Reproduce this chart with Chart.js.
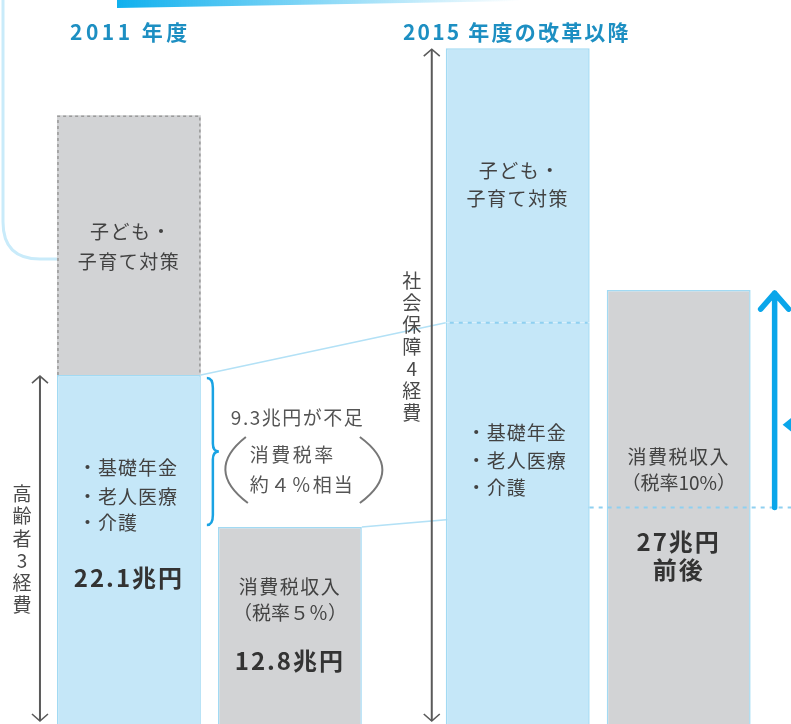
<!DOCTYPE html>
<html lang="ja">
<head>
<meta charset="utf-8">
<script src="https://cdn.jsdelivr.net/npm/chart.js@4.4.1/dist/chart.umd.min.js"></script>
<style>
  html, body { margin: 0; padding: 0; background: #fff; overflow: hidden; }
  #wrap { position: relative; width: 800px; height: 724px; }
</style>
</head>
<body>
<div id="wrap"><canvas id="myChart" width="800" height="724"></canvas></div>
<script>
// values in 兆円
const years = ['2011 年度', '2015 年度の改革以降'];
const elderly = [22.1, 25.3];     // 基礎年金・老人医療・介護
const childcare = [15.9, 16.8];   // 子ども・子育て対策
const taxRevenue = [12.8, 27.3];  // 消費税収入
const oldTaxLevel = 14.0;         // guide line level across the 10% bar

const FONT = "'Noto Sans CJK JP', 'Noto Sans', sans-serif";
const BLUE = '#c5e7f8';
const BLUE_EDGE = '#a2daf3';
const GRAY = '#d2d3d5';

function txt(ctx, s, x, y, size, opt) {
  opt = opt || {};
  ctx.save();
  ctx.font = (opt.bold ? 'bold ' : '') + size + 'px ' + FONT;
  ctx.fillStyle = opt.color || '#424242';
  ctx.textAlign = opt.align || 'center';
  ctx.textBaseline = 'middle';
  ctx.letterSpacing = (opt.ls || 0) + 'px';
  ctx.fillText(s, x, y);
  ctx.restore();
}

function vtxt(ctx, s, x, yCenter, step, size) {
  const chars = Array.from(s);
  const y0 = yCenter - (chars.length - 1) * step / 2;
  chars.forEach((c, i) => txt(ctx, c, x, y0 + i * step, size, {color: '#4a4a4a'}));
}

function dblArrow(ctx, x, y1, y2) {
  ctx.save();
  ctx.strokeStyle = '#5a5a5a';
  ctx.lineWidth = 2;
  ctx.beginPath();
  ctx.moveTo(x, y1 + 1); ctx.lineTo(x, y2 - 1);
  ctx.stroke();
  ctx.lineWidth = 1.6;
  ctx.beginPath();
  ctx.moveTo(x - 8, y1 + 8); ctx.lineTo(x, y1 + 1); ctx.lineTo(x + 8, y1 + 8);
  ctx.moveTo(x - 8, y2 - 8); ctx.lineTo(x, y2 - 1); ctx.lineTo(x + 8, y2 - 8);
  ctx.stroke();
  ctx.restore();
}

const decoPlugin = {
  id: 'deco',
  beforeDraw(chart) {
    const ctx = chart.ctx;
    // top gradient strip
    const g = ctx.createLinearGradient(117, 0, 520, 0);
    g.addColorStop(0, '#0fb0ee');
    g.addColorStop(0.45, 'rgba(15,176,238,0.55)');
    g.addColorStop(1, 'rgba(15,176,238,0)');
    ctx.save();
    ctx.fillStyle = g;
    ctx.beginPath();
    ctx.moveTo(117, 0); ctx.lineTo(117, 8); ctx.lineTo(520, 1); ctx.lineTo(520, 0); ctx.closePath();
    ctx.fill();
    // rounded frame at the top left
    ctx.strokeStyle = '#c9ebfa';
    ctx.lineWidth = 3;
    ctx.beginPath();
    ctx.moveTo(3, 0); ctx.lineTo(3, 222);
    ctx.quadraticCurveTo(3, 259, 40, 259);
    ctx.lineTo(70, 259);
    ctx.stroke();
    ctx.restore();
  },
  beforeDatasetsDraw(chart) {
    const ctx = chart.ctx;
    const lo = chart.getDatasetMeta(0).data;
    const tax = chart.getDatasetMeta(2).data;
    const y = chart.scales.y;
    const hw = lo[0].width / 2;
    ctx.save();
    ctx.strokeStyle = '#b3e1f6';
    ctx.lineWidth = 1.6;
    ctx.beginPath();
    ctx.moveTo(lo[0].x + hw, lo[0].y);
    ctx.lineTo(lo[1].x - hw, lo[1].y);
    ctx.moveTo(tax[0].x + hw, tax[0].y);
    ctx.lineTo(lo[1].x + hw, y.getPixelForValue(oldTaxLevel));
    ctx.stroke();
    ctx.restore();
  },
  afterDatasetsDraw(chart) {
    const ctx = chart.ctx;
    const lo = chart.getDatasetMeta(0).data;
    const up = chart.getDatasetMeta(1).data;
    const tax = chart.getDatasetMeta(2).data;
    const y = chart.scales.y;
    const hw = lo[0].width / 2;
    const H = chart.height;
    const lvl = y.getPixelForValue(oldTaxLevel);

    ctx.save();
    // dashed outline of the 2011 子ども・子育て block
    ctx.strokeStyle = '#9b9b9b';
    ctx.lineWidth = 1.6;
    ctx.setLineDash([3, 3]);
    ctx.beginPath();
    ctx.moveTo(up[0].x - hw + 1, up[0].base);
    ctx.lineTo(up[0].x - hw + 1, up[0].y + 1);
    ctx.lineTo(up[0].x + hw - 1, up[0].y + 1);
    ctx.lineTo(up[0].x + hw - 1, up[0].base);
    ctx.stroke();
    // dotted guide lines
    ctx.strokeStyle = '#8fd0f0';
    ctx.lineWidth = 2;
    ctx.setLineDash([4, 5]);
    ctx.beginPath();
    ctx.moveTo(lo[1].x - hw + 4, lo[1].y);
    ctx.lineTo(lo[1].x + hw - 2, lo[1].y);
    ctx.moveTo(lo[1].x + hw, lvl);
    ctx.lineTo(chart.width, lvl);
    ctx.stroke();
    ctx.restore();

    // titles
    txt(ctx, years[0], 70, 32, 21, {bold: true, color: '#1d8fc2', align: 'left', ls: 3.5});
    txt(ctx, years[1], 403, 32, 21, {bold: true, color: '#1d8fc2', align: 'left', ls: 2.2});

    // bar 1
    const m1 = (up[0].y + up[0].base) / 2;
    txt(ctx, '子ども・', up[0].x + 2, m1 - 13, 19, {ls: 1.5});
    txt(ctx, '子育て対策', up[0].x, m1 + 17, 19, {ls: 1.5});
    const l1 = lo[0].x - 51;
    txt(ctx, '・基礎年金', l1, lo[0].y + 93, 19, {align: 'left', ls: 1});
    txt(ctx, '・老人医療', l1, lo[0].y + 122, 19, {align: 'left', ls: 1});
    txt(ctx, '・介護', l1, lo[0].y + 148, 19, {align: 'left', ls: 1});
    txt(ctx, elderly[0] + '兆円', lo[0].x, lo[0].y + 203, 24, {bold: true, color: '#333', ls: 2});

    // bar 2
    txt(ctx, '消費税収入', tax[0].x, tax[0].y + 60, 19, {ls: 1.5});
    txt(ctx, '（税率５％）', tax[0].x, tax[0].y + 86, 19, {ls: 0});
    txt(ctx, taxRevenue[0] + '兆円', tax[0].x, tax[0].y + 134, 24, {bold: true, color: '#333', ls: 2});

    // bar 3
    txt(ctx, '子ども・', up[1].x + 2, up[1].y + 123, 19, {ls: 1.5});
    txt(ctx, '子育て対策', up[1].x, up[1].y + 151, 19, {ls: 1.5});
    const l3 = lo[1].x - 51;
    txt(ctx, '・基礎年金', l3, lo[1].y + 110, 19, {align: 'left', ls: 1});
    txt(ctx, '・老人医療', l3, lo[1].y + 138, 19, {align: 'left', ls: 1});
    txt(ctx, '・介護', l3, lo[1].y + 165, 19, {align: 'left', ls: 1});

    // bar 4
    txt(ctx, '消費税収入', tax[1].x, tax[1].y + 167, 19, {ls: 1.5});
    txt(ctx, '（税率10%）', tax[1].x, tax[1].y + 193, 19, {ls: 0});
    txt(ctx, '27兆円', tax[1].x, tax[1].y + 252, 24, {bold: true, color: '#333', ls: 2});
    txt(ctx, '前後', tax[1].x, tax[1].y + 280, 24, {bold: true, color: '#333', ls: 2});

    // side arrows with vertical labels
    const ax1 = lo[0].x - hw - 17;
    dblArrow(ctx, ax1, lo[0].y, H - 2);
    vtxt(ctx, '高齢者3経費', ax1 - 18, (lo[0].y + H) / 2, 22.3, 19);
    const ax3 = lo[1].x - hw - 14;
    dblArrow(ctx, ax3, up[1].y, H - 2);
    vtxt(ctx, '社会保障4経費', ax3 - 20, lo[1].y + 24, 22, 19);

    // brace for the shortage
    const bx = lo[0].x + hw + 6;
    const bt = lo[0].y + 3, bb = tax[0].y - 2, bm = (bt + bb) / 2;
    ctx.save();
    ctx.strokeStyle = '#1aa3e3';
    ctx.lineWidth = 2.5;
    ctx.beginPath();
    ctx.moveTo(bx, bt);
    ctx.quadraticCurveTo(bx + 6, bt, bx + 6, bt + 10);
    ctx.lineTo(bx + 6, bm - 8);
    ctx.quadraticCurveTo(bx + 6, bm, bx + 12, bm);
    ctx.quadraticCurveTo(bx + 6, bm, bx + 6, bm + 8);
    ctx.lineTo(bx + 6, bb - 10);
    ctx.quadraticCurveTo(bx + 6, bb, bx, bb);
    ctx.stroke();
    ctx.restore();

    const rx = lo[0].x + hw;
    txt(ctx, (elderly[0] - taxRevenue[0]).toFixed(1) + '兆円が不足', rx + 30, lo[0].y + 43, 19, {align: 'left', ls: 1.5, color: '#555'});
    txt(ctx, '消費税率', rx + 49, lo[0].y + 80, 19, {align: 'left', ls: 2.5, color: '#555'});
    txt(ctx, '約４％相当', rx + 49, lo[0].y + 110, 19, {align: 'left', ls: 2, color: '#555'});
    ctx.save();
    ctx.strokeStyle = '#777';
    ctx.lineWidth = 2;
    ctx.beginPath();
    ctx.moveTo(rx + 45, lo[0].y + 62);
    ctx.quadraticCurveTo(rx + 3, lo[0].y + 95, rx + 47, lo[0].y + 128);
    ctx.moveTo(rx + 159, lo[0].y + 62);
    ctx.quadraticCurveTo(rx + 204, lo[0].y + 95, rx + 159, lo[0].y + 128);
    ctx.stroke();
    ctx.restore();

    // blue rise arrow next to the 10% bar
    const bxr = tax[1].x + hw + 24;
    ctx.save();
    ctx.strokeStyle = '#0aa6ea';
    ctx.fillStyle = '#0aa6ea';
    ctx.lineWidth = 5.5;
    ctx.lineCap = 'round';
    ctx.lineJoin = 'round';
    ctx.beginPath();
    ctx.moveTo(bxr, lvl); ctx.lineTo(bxr, tax[1].y + 3);
    ctx.moveTo(bxr - 14, tax[1].y + 19); ctx.lineTo(bxr, tax[1].y + 3); ctx.lineTo(bxr + 14, tax[1].y + 19);
    ctx.stroke();
    const ty = (lvl + tax[1].y) / 2 + 26;
    ctx.beginPath();
    ctx.moveTo(bxr + 8, ty); ctx.lineTo(bxr + 18, ty - 8); ctx.lineTo(bxr + 18, ty + 8); ctx.closePath();
    ctx.fill();
    ctx.restore();
  }
};

const sideOnly = {left: 1.5, right: 1.5, top: 0, bottom: 0};
const openBottom = {left: 1.5, right: 1.5, top: 1.5, bottom: 0};

new Chart('myChart', {
  type: 'bar',
  data: {
    labels: years,
    datasets: [{
      label: '基礎年金・老人医療・介護',
      data: elderly,
      stack: 'cost',
      backgroundColor: BLUE,
      borderColor: BLUE_EDGE,
      borderSkipped: false,
      borderWidth: c => c.dataIndex === 1 ? sideOnly : openBottom
    }, {
      label: '子ども・子育て対策',
      data: childcare,
      stack: 'cost',
      backgroundColor: [GRAY, BLUE],
      borderColor: BLUE_EDGE,
      borderSkipped: false,
      borderWidth: c => c.dataIndex === 0 ? 0 : openBottom
    }, {
      label: '消費税収入',
      data: taxRevenue,
      stack: 'tax',
      backgroundColor: GRAY,
      borderColor: BLUE_EDGE,
      borderSkipped: false,
      borderWidth: openBottom
    }]
  },
  options: {
    responsive: false,
    animation: false,
    categoryPercentage: 0.828,
    barPercentage: 0.894,
    layout: {padding: {left: 15, right: 7.4, top: 0, bottom: 0}},
    scales: {
      x: {display: false, stacked: true},
      y: {display: false, stacked: true, min: 0.746, max: 45.05}
    },
    plugins: {legend: {display: false}, tooltip: {enabled: false}}
  },
  plugins: [decoPlugin]
});
</script>
</body>
</html>
